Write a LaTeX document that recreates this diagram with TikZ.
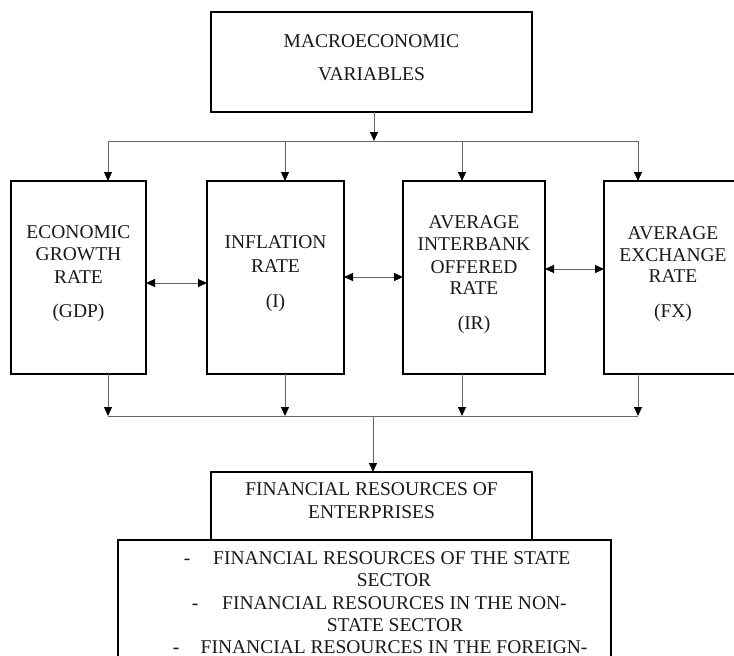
\documentclass[tikz,border=0pt]{standalone}
\usepackage{fontspec}
\setmainfont{Liberation Serif}
\usetikzlibrary{arrows.meta}
\tikzset{
  box/.style={draw=black, line width=1.7pt, inner sep=0pt, outer sep=0pt, fill=white},
  conn/.style={draw=black!60, line width=1pt},
  tip/.tip={Triangle[length=9pt,width=8pt,color=black]},
  arr/.style={conn, -tip},
  darr/.style={conn, tip-tip},
  lbl/.style={anchor=base, font=\fontsize{19.5}{22}\selectfont, text=black!90, inner sep=0pt},
  lblw/.style={lbl, anchor=base west},
}
\begin{document}
\begin{tikzpicture}[x=1pt,y=-1pt]
\useasboundingbox (0,0) rectangle (734,656);
\clip (0,0) rectangle (734,656);
\fill[white] (0,0) rectangle (734,656);

% boxes
\node[box, minimum width=321pt, minimum height=100pt] (macro) at (371.5,62) {};
\node[box, minimum width=135pt, minimum height=193pt] (gdp) at (78.5,277.5) {};
\node[box, minimum width=137pt, minimum height=193pt] (infl) at (275.5,277.5) {};
\node[box, minimum width=142pt, minimum height=193pt] (ir) at (474,277.5) {};
\node[box, minimum width=138pt, minimum height=193pt] (fx) at (673,277.5) {};
\node[box, minimum width=493pt, minimum height=160pt] (sect) at (364.5,620) {};
\node[box, minimum width=321pt, minimum height=68pt] (fin) at (371.5,506) {};

% labels
\node[lbl] (t1) at (371.5,47) {MACROECONOMIC};
\node[lbl] (t2) at (371.5,80) {VARIABLES};

\node[lbl] (g1) at (78.5,238.5) {ECONOMIC};
\node[lbl] (g2) at (78.5,260.5) {GROWTH};
\node[lbl] (g3) at (78.5,283) {RATE};
\node[lbl] (g4) at (78.5,317.5) {(GDP)};

\node[lbl] (i1) at (275.5,248.5) {INFLATION};
\node[lbl] (i2) at (275.5,272) {RATE};
\node[lbl] (i3) at (275.5,307) {(I)};

\node[lbl] (r1) at (474,228) {AVERAGE};
\node[lbl] (r2) at (474,250.5) {INTERBANK};
\node[lbl] (r3) at (474,273) {OFFERED};
\node[lbl] (r4) at (474,294) {RATE};
\node[lbl] (r5) at (474,329) {(IR)};

\node[lbl] (x1) at (673,239) {AVERAGE};
\node[lbl] (x2) at (673,261) {EXCHANGE};
\node[lbl] (x3) at (673,282.5) {RATE};
\node[lbl] (x4) at (673,317.5) {(FX)};

\node[lbl] (f1) at (371.5,495.5) {FINANCIAL RESOURCES OF};
\node[lbl] (f2) at (371.5,518) {ENTERPRISES};

\node[lbl] (d1) at (187,564.5) {-};
\node[lblw] (s1) at (213,564.5) {FINANCIAL RESOURCES OF THE STATE};
\node[lbl] (s2) at (394,586.5) {SECTOR};
\node[lbl] (d2) at (195,609.5) {-};
\node[lblw] (s3) at (222,609.5) {FINANCIAL RESOURCES IN THE NON-};
\node[lbl] (s4) at (395,631.5) {STATE SECTOR};
\node[lbl] (d3) at (176,653) {-};
\node[lblw] (s5) at (200.5,653) {FINANCIAL RESOURCES IN THE FOREIGN-};

% distribution bus below the top box
\coordinate (tM) at (374,141);
\coordinate (tL) at (108,141);
\coordinate (t2) at (285,141);
\coordinate (t3) at (462,141);
\coordinate (tR) at (638,141);
\draw[arr] (macro.south -| tM) -- (tM);
\draw[conn] (tL) -- (tR);
\draw[arr] (tL) -- (gdp.north -| tL);
\draw[arr] (t2) -- (infl.north -| t2);
\draw[arr] (t3) -- (ir.north -| t3);
\draw[arr] (tR) -- (fx.north -| tR);

% links between neighbouring variables
\draw[darr] (gdp.east |- 0,283) -- (infl.west |- 0,283);
\draw[darr] (infl.east |- 0,277) -- (ir.west |- 0,277);
\draw[darr] (ir.east |- 0,269) -- (fx.west |- 0,269);

% collecting bus above the resources box
\coordinate (bL) at (108,416);
\coordinate (b2) at (285,416);
\coordinate (b3) at (462,416);
\coordinate (bR) at (638,416);
\coordinate (bM) at (373,416);
\draw[conn] (bL) -- (bR);
\draw[arr] (gdp.south -| bL) -- (bL);
\draw[arr] (infl.south -| b2) -- (b2);
\draw[arr] (ir.south -| b3) -- (b3);
\draw[arr] (fx.south -| bR) -- (bR);
\draw[arr] (bM) -- (fin.north -| bM);
\end{tikzpicture}
\end{document}
